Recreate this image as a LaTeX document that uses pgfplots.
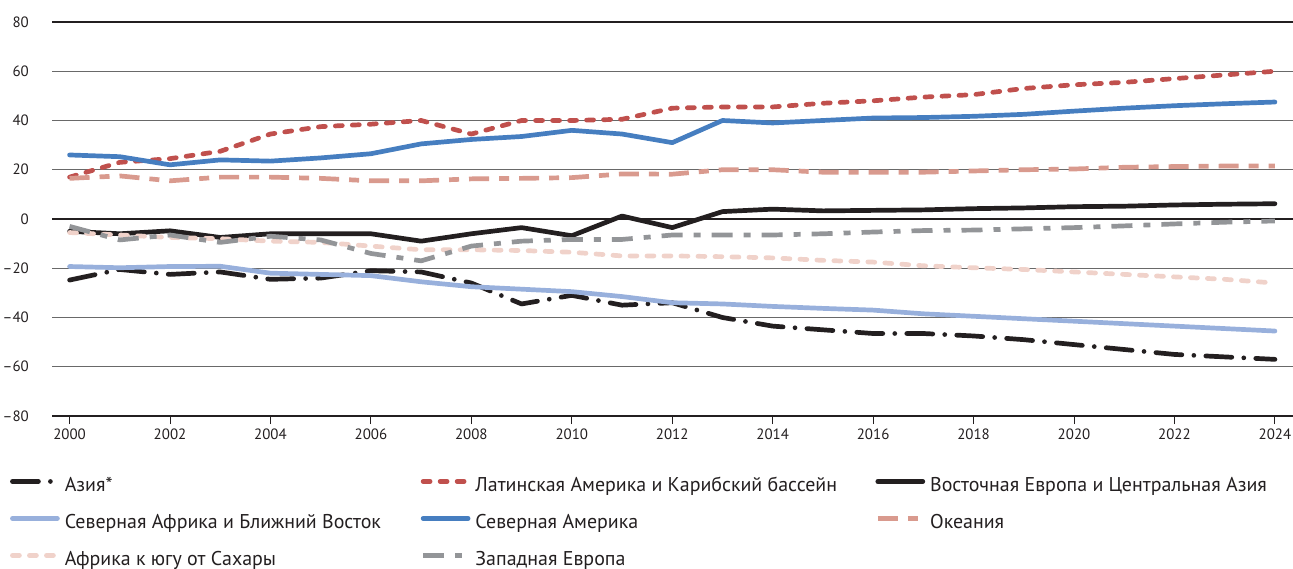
\documentclass[border=0pt]{standalone}
\usepackage{fontspec}
\setmainfont{PT Sans}
\usepackage{pgfplots}
\pgfplotsset{compat=1.18}
\definecolor{cBlack}{RGB}{35,31,32}
\definecolor{cLat}{RGB}{192,80,77}
\definecolor{cNAf}{RGB}{152,176,220}
\definecolor{cNAm}{RGB}{70,126,192}
\definecolor{cOce}{RGB}{217,154,142}
\definecolor{cSSA}{RGB}{240,210,202}
\definecolor{cWEu}{RGB}{147,149,152}
\definecolor{gridc}{RGB}{105,105,105}
\begin{document}
\begin{tikzpicture}
\begin{axis}[
  scale only axis, width=1241bp, height=394bp,
  xmin=1999.65, xmax=2024.36, ymin=-80, ymax=80,
  xtick={2000,2002,...,2024},
  xticklabels={2000,2002,2004,2006,2008,2010,2012,2014,2016,2018,2020,2022,2024},
  ytick={-80,-60,-40,-20,0,20,40,60,80},
  yticklabels={–80,–60,–40,–20,0,20,40,60,80},
  ymajorgrids, grid style={line width=1bp, color=gridc},
  separate axis lines,
  y axis line style={draw=none},
  x axis line style={line width=1.2bp, color=cBlack},
  xtick pos=left, tick align=outside, major tick length=8bp,
  xtick style={color=cBlack, line width=1bp},
  ytick style={draw=none},
  yticklabel style={anchor=east, inner sep=0pt, xshift=-15bp, font=\fontsize{15}{17}\selectfont, text=cBlack},
  xticklabel style={anchor=north, inner sep=0pt, yshift=-5bp, font=\fontsize{15}{17}\selectfont, text=cBlack},
  extra y ticks={0}, extra y tick labels={},
  extra y tick style={grid style={line width=1.1bp, color=cBlack}},
  legend columns=3,
  legend cell align=left,
  legend image code/.code={\draw[#1] (0bp,5bp) -- (45bp,5bp);},
  legend style={draw=none, fill=none, inner sep=0pt, outer sep=0pt,
    at={(-0.0338,-0.156)}, anchor=north west,
    font=\fontsize{20}{22}\selectfont, text=cBlack,
    nodes={inner sep=0pt, text height=14bp, text depth=4bp},
    row sep=19bp, column sep=0pt,
    /tikz/every odd column/.style={column sep=5bp}},
  every axis plot/.append style={line width=4.7bp, line join=round},
]
\coordinate (bl) at (rel axis cs:0,0);
% Asia
\addplot[color=cBlack, line cap=round, dash pattern=on 26bp off 12bp on 0bp off 12bp] coordinates {
(2000,-24.8)(2001,-20.5)(2002,-22.5)(2003,-21.5)(2004,-24.5)(2005,-24)(2006,-21)(2007,-21.5)(2008,-26)(2009,-34.5)(2010,-31)(2011,-35)(2012,-34)(2013,-40)(2014,-43.5)(2015,-45)(2016,-46.5)(2017,-46.5)(2018,-47.5)(2019,-49)(2020,-51)(2021,-53)(2022,-55)(2023,-56)(2024,-57)};
\addlegendentry{\makebox[356bp][l]{Азия*}}
% Latin America
\addplot[color=cLat, line cap=round, dash pattern=on 7bp off 10bp] coordinates {
(2000,17)(2001,23)(2002,24.5)(2003,27.5)(2004,34.5)(2005,37.5)(2006,38.5)(2007,40)(2008,34.5)(2009,40)(2010,40)(2011,40.5)(2012,45)(2013,45.5)(2014,45.5)(2015,47)(2016,48)(2017,49.5)(2018,50.5)(2019,53)(2020,54.5)(2021,55.5)(2022,57)(2023,58.5)(2024,60)};
\addlegendentry{\makebox[400bp][l]{Латинская Америка и Карибский бассейн}}
% Eastern Europe and Central Asia
\addplot[color=cBlack, line cap=round] coordinates {
(2000,-5)(2001,-6)(2002,-4.8)(2003,-7.5)(2004,-6)(2005,-6)(2006,-6)(2007,-9)(2008,-6)(2009,-3.5)(2010,-6.8)(2011,1.2)(2012,-3.5)(2013,3)(2014,4)(2015,3.3)(2016,3.5)(2017,3.7)(2018,4.2)(2019,4.5)(2020,5)(2021,5.2)(2022,5.7)(2023,6)(2024,6.2)};
\addlegendentry{Восточная Европа и Центральная Азия}
% North Africa and Middle East
\addplot[color=cNAf, line cap=round] coordinates {
(2000,-19.3)(2001,-19.8)(2002,-19.3)(2003,-19.2)(2004,-22)(2005,-22.5)(2006,-23)(2007,-25.5)(2008,-27.5)(2009,-28.5)(2010,-29.5)(2011,-31.5)(2012,-34)(2013,-34.5)(2014,-35.5)(2015,-36.3)(2016,-37)(2017,-38.5)(2018,-39.5)(2019,-40.5)(2020,-41.5)(2021,-42.5)(2022,-43.5)(2023,-44.5)(2024,-45.5)};
\addlegendentry{\makebox[356bp][l]{Северная Африка и Ближний Восток}}
% North America
\addplot[color=cNAm, line cap=round] coordinates {
(2000,26)(2001,25.3)(2002,22)(2003,24)(2004,23.5)(2005,24.8)(2006,26.5)(2007,30.5)(2008,32.3)(2009,33.5)(2010,36)(2011,34.5)(2012,31)(2013,40)(2014,39)(2015,40)(2016,41)(2017,41.2)(2018,41.7)(2019,42.5)(2020,43.8)(2021,45)(2022,46)(2023,46.8)(2024,47.5)};
\addlegendentry{\makebox[400bp][l]{Северная Америка}}
% Oceania
\addplot[color=cOce, line cap=butt, dash pattern=on 20bp off 10bp on 10bp off 10bp] coordinates {
(2000,16.5)(2001,17.5)(2002,15.5)(2003,17)(2004,17)(2005,16.5)(2006,15.5)(2007,15.5)(2008,16.3)(2009,16.5)(2010,16.8)(2011,18.3)(2012,18.2)(2013,20)(2014,20)(2015,19)(2016,19)(2017,19)(2018,19.5)(2019,20)(2020,20.3)(2021,21)(2022,21.3)(2023,21.5)(2024,21.5)};
\addlegendentry{Океания}
% Sub-Saharan Africa
\addplot[color=cSSA, line cap=round, dash pattern=on 7bp off 10bp] coordinates {
(2000,-5.5)(2001,-6.5)(2002,-7.5)(2003,-8)(2004,-9)(2005,-9.5)(2006,-11)(2007,-12.5)(2008,-12.5)(2009,-12.8)(2010,-13.5)(2011,-15)(2012,-15)(2013,-15.3)(2014,-15.8)(2015,-16.8)(2016,-17.5)(2017,-19)(2018,-19.8)(2019,-20.5)(2020,-21.5)(2021,-22.5)(2022,-23.5)(2023,-24.5)(2024,-26)};
\addlegendentry{\makebox[356bp][l]{Африка к югу от Сахары}}
% Western Europe
\addplot[color=cWEu, line cap=butt, dash pattern=on 21bp off 11bp on 7bp off 11bp] coordinates {
(2000,-3)(2001,-8.5)(2002,-6.5)(2003,-9.5)(2004,-7)(2005,-8.5)(2006,-14)(2007,-17)(2008,-11)(2009,-9)(2010,-8.3)(2011,-8.3)(2012,-6.5)(2013,-6.5)(2014,-6.5)(2015,-6)(2016,-5.3)(2017,-4.7)(2018,-4.5)(2019,-4)(2020,-3.5)(2021,-2.8)(2022,-2)(2023,-1.3)(2024,-0.8)};
\addlegendentry{\makebox[400bp][l]{Западная Европа}}
\end{axis}
\pgfresetboundingbox
\path (bl) ++(-52bp,-153bp) rectangle ++(1293bp,569bp);
\end{tikzpicture}
\end{document}
